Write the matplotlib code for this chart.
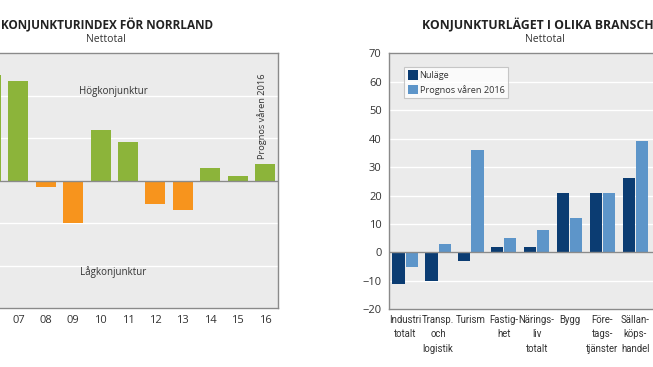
import matplotlib
matplotlib.use("Agg")
import matplotlib.pyplot as plt
import numpy as np

plt.rcParams['font.family'] = ['Open Sans', 'DejaVu Sans']

# Konjunkturindex för Norrland (nettotal per år)
years = [6, 7, 8, 9, 10, 11, 12, 13, 14, 15, 16]
year_labels = ['06', '07', '08', '09', '10', '11', '12', '13', '14', '15', '16']
index_values = [25, 23.5, -1.5, -10, 12, 9, -5.5, -7, 3, 1, 4]

# Konjunkturläget i olika branscher
branches = ['Industri\ntotalt', 'Transp.\noch\nlogistik', 'Turism', 'Fastig-\nhet',
            'Närings-\nliv\ntotalt', 'Bygg', 'Före-\ntags-\ntjänster', 'Sällan-\nköps-\nhandel']
nulage = [-11, -10, -3, 2, 2, 21, 21, 26]
prognos = [-5, 3, 36, 5, 8, 12, 21, 39]

GREEN = '#8cb43a'
ORANGE = '#f7941d'
DARK = '#0b3c72'
LIGHT = '#5d95c9'
BG = '#ebebeb'
SPINE = '#8a8a8a'
TXT = '#333333'

W, H = 653, 367
fig = plt.figure(figsize=(W / 100, H / 100), dpi=100)


def box(x0, y0, x1, y1):
    return [x0 / W, 1 - y1 / H, (x1 - x0) / W, (y1 - y0) / H]


def style(ax):
    ax.set_facecolor(BG)
    for s in ax.spines.values():
        s.set_color(SPINE)
        s.set_linewidth(1.0)
    ax.grid(axis='y', color='white', linewidth=1.0)
    ax.set_axisbelow(True)
    ax.tick_params(length=0, colors=TXT, labelsize=8)


# ---- left panel ----
ax1 = fig.add_axes(box(-22.7, 53.3, 278, 308))
style(ax1)
colors = [GREEN if v >= 0 else ORANGE for v in index_values]
ax1.bar(years, index_values, width=0.73, color=colors, zorder=2)
ax1.axhline(0, color=SPINE, linewidth=1.0, zorder=3)
ax1.set_xlim(5.5, 16.47)
ax1.set_ylim(-30, 30)
ax1.set_yticks(np.arange(-30, 31, 10))
ax1.tick_params(axis='y', labelleft=False)
# the 06 label lies outside the visible area, only 07-16 are shown
ax1.set_xticks(years[1:])
ax1.set_xticklabels(year_labels[1:])
ax1.tick_params(axis='x', pad=5)
ax1.text(10.45, 21, 'Högkonjunktur', fontsize=7, color=TXT, ha='center', va='center')
ax1.text(10.45, -21.5, 'Lågkonjunktur', fontsize=7, color=TXT, ha='center', va='center')
ax1.text(15.9, 15.3, 'Prognos våren 2016', fontsize=6.7, color=TXT, rotation=90,
         ha='center', va='center')

fig.text(213 / W, 1 - 25 / H, 'KONJUNKTURINDEX FÖR NORRLAND', fontsize=8.5,
         fontweight='bold', color='#222222', ha='right', va='center')
fig.text(106 / W, 1 - 40 / H, 'Nettotal', fontsize=7.5, color=TXT, ha='center', va='center')

# ---- right panel ----
ax2 = fig.add_axes(box(388.7, 53.3, 655, 309.3))
style(ax2)
x = np.arange(len(branches))
ax2.bar(x - 0.2, nulage, width=0.37, color=DARK, label='Nuläge', zorder=2)
ax2.bar(x + 0.2, prognos, width=0.37, color=LIGHT, label='Prognos våren 2016', zorder=2)
ax2.axhline(0, color=SPINE, linewidth=1.0, zorder=3)
ax2.set_xlim(-0.5, 7.6)
ax2.set_ylim(-20, 70)
ax2.set_yticks(np.arange(-20, 71, 10))
ax2.set_xticks(x)
ax2.set_xticklabels(branches, fontsize=6.9, family=['Roboto', 'DejaVu Sans'],
                    linespacing=1.55, multialignment='center')
ax2.tick_params(axis='x', pad=4)
ax2.tick_params(axis='y', pad=5)
leg = ax2.legend(loc='upper left', bbox_to_anchor=(0.0575, 0.948), borderaxespad=0,
                 fontsize=6.6, frameon=True, fancybox=False, edgecolor='#bbbbbb',
                 handlelength=1.15, handleheight=1.2, handletextpad=0.15,
                 borderpad=0.4, labelspacing=0.5)
leg.get_frame().set_linewidth(0.8)
for t in leg.get_texts():
    t.set_color(TXT)

fig.text(421.7 / W, 1 - 25 / H, 'KONJUNKTURLÄGET I OLIKA BRANSCHER', fontsize=8.8,
         fontweight='bold', color='#222222', ha='left', va='center')
fig.text(545 / W, 1 - 40 / H, 'Nettotal', fontsize=7.5, color=TXT, ha='center', va='center')

fig.savefig('out.png', dpi=100, facecolor='white')
